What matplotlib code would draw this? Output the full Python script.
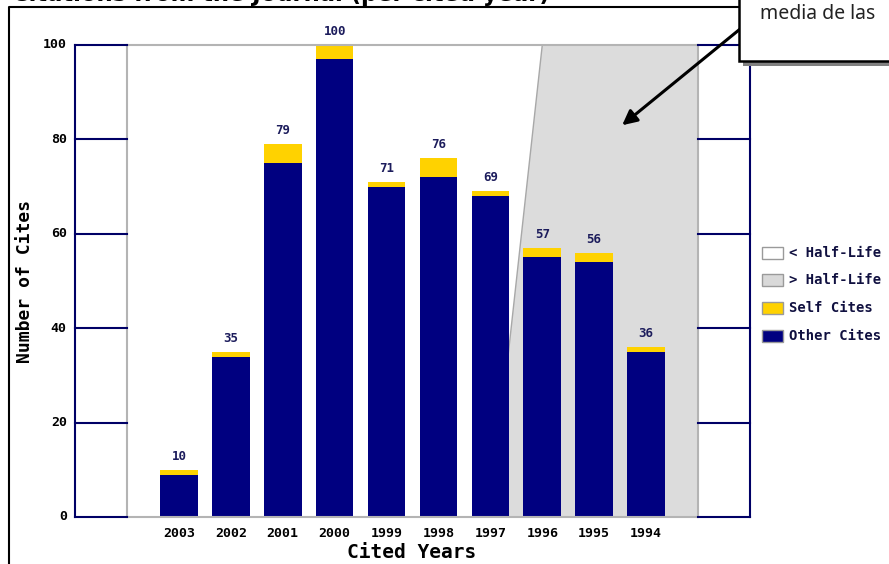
import matplotlib
matplotlib.use("Agg")
import matplotlib.pyplot as plt
from matplotlib.patches import Rectangle, Polygon, FancyArrowPatch
from matplotlib.lines import Line2D

# ---- data ----
years = ["2003", "2002", "2001", "2000", "1999", "1998", "1997", "1996", "1995", "1994"]
totals = [10, 35, 79, 100, 71, 76, 69, 57, 56, 36]
self_cites = [1, 1, 4, 3, 1, 4, 1, 2, 2, 1]
other_cites = [t - s for t, s in zip(totals, self_cites)]
y_ticks = [0, 20, 40, 60, 80, 100]
half_life_bottom = 7.0   # x position of half-life boundary at y=0
half_life_top = 8.0      # x position of half-life boundary at y=100
legend_labels = ["< Half-Life", "> Half-Life", "Self Cites", "Other Cites"]
title_text = "Citations from the Journal (per cited year)"
note_text = "media de las"

W, H = 889, 564
NAVY = "#000080"
YELLOW = "#FFD200"
GRAY = "#DCDCDC"
MONO = "DejaVu Sans Mono"

def fx(x):
    return x / W

def fy(y):
    return 1 - y / H

fig = plt.figure(figsize=(W / 100, H / 100), dpi=100)
ax = fig.add_axes([fx(127), fy(517), (698 - 127) / W, (517 - 45) / H])

xs = list(range(1, len(years) + 1))
ax.set_xlim(0, len(years) + 1)
ax.set_ylim(0, 100)

# half-life shaded region
poly = Polygon([(half_life_bottom, 0), (half_life_top, 100), (len(years) + 1, 100), (len(years) + 1, 0)],
               closed=True, facecolor=GRAY, edgecolor="none", zorder=0)
ax.add_patch(poly)
ax.plot([half_life_bottom, half_life_top], [0, 100], color="#A8A8A8", lw=1, zorder=0.5)

bw = 0.726
ax.bar(xs, other_cites, width=bw, color=NAVY, zorder=2)
ax.bar(xs, self_cites, bottom=other_cites, width=bw, color=YELLOW, zorder=2)

for x, t in zip(xs, totals):
    ax.annotate(str(t), (x, t), xytext=(0, 5), textcoords="offset points",
                ha="center", va="bottom", fontsize=9, fontweight="bold",
                family=MONO, color="#1c1c5c")

for s in ax.spines.values():
    s.set_color("#B4B4B4")
    s.set_linewidth(1.5)

ax.set_yticks([])
ax.set_xticks(xs)
ax.set_xticklabels(years, fontsize=9.5, fontweight="bold", family=MONO)
ax.tick_params(axis="x", length=0, pad=7)

# side panels
n1 = len(years) + 1
for yv in y_ticks:
    ax.plot([-1, 0], [yv, yv], color="#000066", lw=1.5, clip_on=False, zorder=3)
    ax.plot([n1, n1 + 1], [yv, yv], color="#000066", lw=1.5, clip_on=False, zorder=3)
    ax.annotate(str(yv), (-1, yv), xytext=(-6, 0), textcoords="offset points",
                ha="right", va="center", fontsize=9.5, fontweight="bold", family=MONO,
                annotation_clip=False)
ax.plot([-1, -1], [0, 100], color="#000066", lw=1.5, clip_on=False, zorder=3)
ax.plot([n1 + 1, n1 + 1], [0, 100], color="#000066", lw=1.5, clip_on=False, zorder=3)

# axis labels
fig.text(fx(25), fy(281), "Number of Cites", rotation=90, ha="center", va="center",
         fontsize=13, fontweight="bold", family=MONO)
fig.text(fx(412), fy(553), "Cited Years", ha="center", va="center",
         fontsize=14, fontweight="bold", family=MONO)

# title (cut at top)
fig.text(fx(12), fy(1.5), title_text, ha="left", va="baseline",
         fontsize=16.3, fontweight="bold", family="DejaVu Sans")

# outer frame
fig.add_artist(Line2D([fx(9), fx(9), fx(739)], [fy(566), fy(7), fy(7)],
                      color="black", lw=1.5))

# legend
leg_colors = ["white", "#D9D9D9", YELLOW, NAVY]
leg_y = [253, 280, 308, 336]
for lab, c, yy in zip(legend_labels, leg_colors, leg_y):
    fig.add_artist(Rectangle((fx(762), fy(yy + 6)), 21 / W, 12 / H, facecolor=c,
                             edgecolor="#9A9A9A", lw=1, transform=fig.transFigure))
    fig.text(fx(789), fy(yy), lab, ha="left", va="center", fontsize=10,
             fontweight="bold", family=MONO, color="#101040")

# arrow
arr = FancyArrowPatch((fx(745), fy(25)), (fx(620), fy(127)), transform=fig.transFigure,
                      arrowstyle="-|>", mutation_scale=22, lw=2.2, color="black", zorder=5)
fig.add_artist(arr)

# note box with shadow
fig.add_artist(Rectangle((fx(743), fy(66)), (W - 743 + 10) / W, 70 / H, facecolor="#808080",
                         edgecolor="none", transform=fig.transFigure, zorder=6))
fig.add_artist(Rectangle((fx(739), fy(61)), (W - 739 + 10) / W, 70 / H, facecolor="white",
                         edgecolor="black", lw=1.8, transform=fig.transFigure, zorder=7))
fig.text(fx(760), fy(14), note_text, ha="left", va="center", fontsize=14,
         family="Noto Sans", color="#222222", zorder=8)

fig.savefig("out.png", dpi=100)
